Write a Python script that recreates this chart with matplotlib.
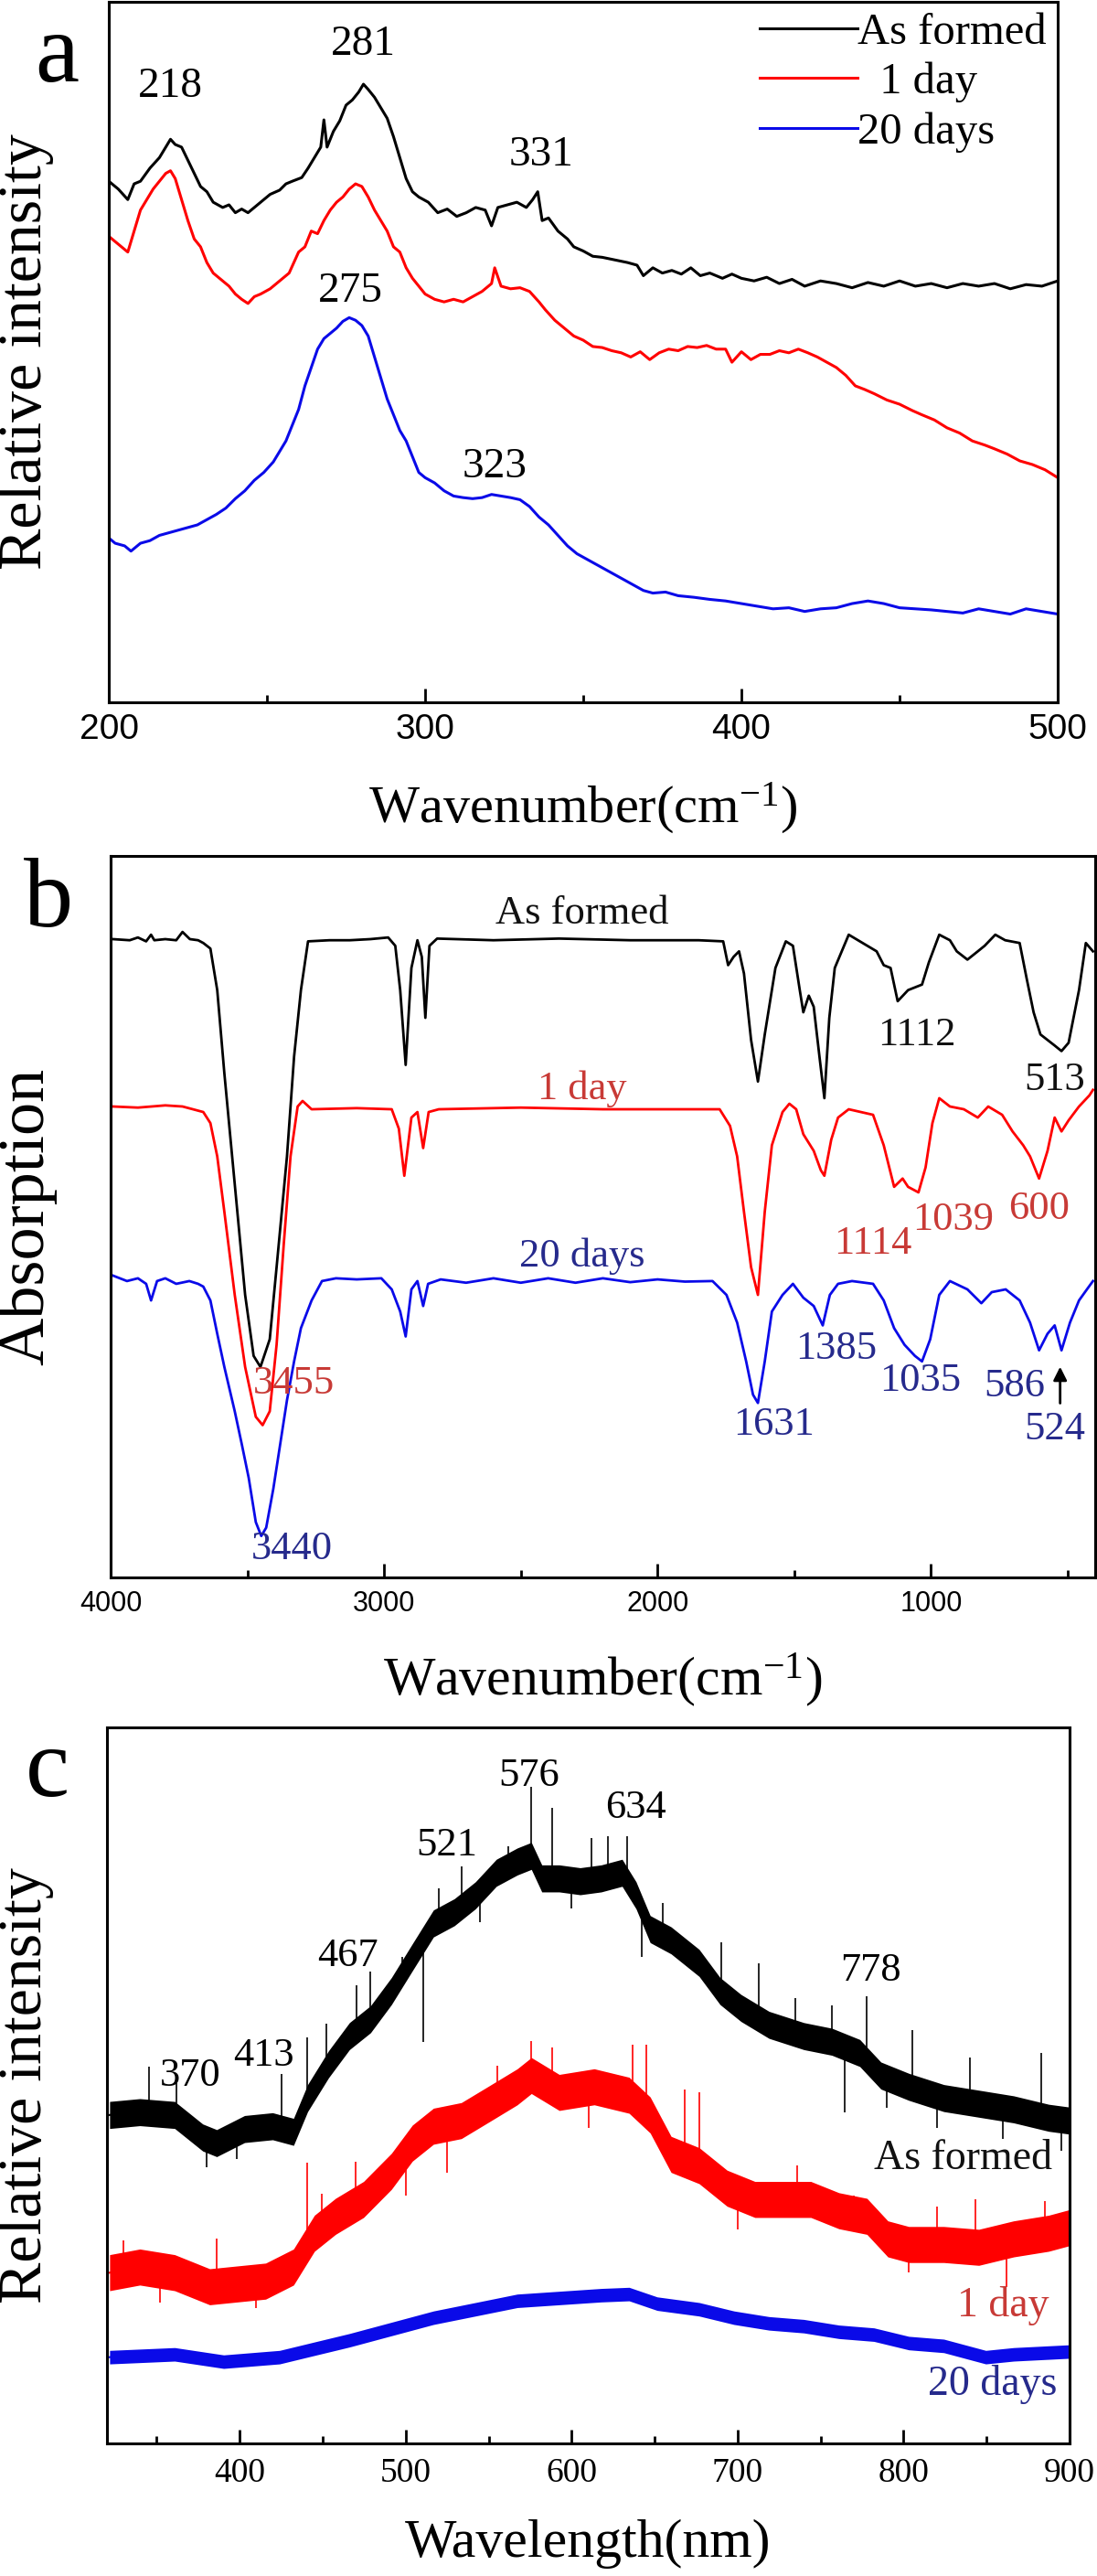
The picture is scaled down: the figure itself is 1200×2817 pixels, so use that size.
# Raman (a), FTIR (b) and PL (c) spectra of the samples: as formed, 1 day, 20 days
import numpy as np
import matplotlib
matplotlib.use('Agg')
import matplotlib.pyplot as plt

plt.rcParams['font.family'] = ['Liberation Serif', 'DejaVu Serif']
plt.rcParams['mathtext.fontset'] = 'custom'
plt.rcParams['mathtext.rm'] = 'Liberation Serif'
plt.rcParams['mathtext.it'] = 'Liberation Serif:italic'

# ---------------- data, panel a (Raman) ----------------
a_black_x = [200, 203, 206, 208, 210, 213, 216, 218, 219.5, 221, 223, 225, 227, 229, 231, 233, 236, 238, 240, 242,
             244, 246, 248, 251, 254, 256, 258, 261, 263, 265, 267, 268, 269, 271, 273, 275, 277, 279, 280.5, 282,
             284, 286, 288, 290, 292, 294, 296, 298, 301, 304, 307, 310, 313, 316, 319, 321, 323, 326, 329, 332,
             334, 335.6, 337, 339, 342, 345, 347, 350, 353, 356, 360, 364, 367, 369, 372, 375, 378, 381, 384, 387,
             390, 394, 397, 400, 404, 408, 412, 416, 420, 425, 430, 435, 440, 445, 450, 455, 460, 465, 470, 475,
             480, 485, 490, 495, 500]
a_black_y = [993, 978, 958, 988, 993, 1018, 1038, 1058, 1073, 1063, 1058, 1033, 1008, 983, 973, 953, 943, 948, 933, 940,
             933, 943, 953, 968, 976, 988, 993, 1000, 1018, 1038, 1058, 1110, 1058, 1088, 1108, 1138, 1148, 1163, 1178, 1168,
             1153, 1133, 1113, 1078, 1038, 998, 973, 963, 953, 933, 940, 926, 933, 943, 938, 908, 943, 948, 953, 943,
             958, 973, 918, 923, 898, 883, 868, 860, 850, 848, 843, 838, 833, 813, 828, 818, 823, 816, 828, 813,
             818, 808, 816, 808, 803, 810, 798, 806, 793, 803, 798, 790, 800, 793, 803, 793, 798, 790, 798, 793,
             798, 788, 796, 793, 803]

a_red_x = [200, 202, 204, 206, 208, 210, 212, 214, 216, 218, 219.5, 221, 223, 225, 227, 229, 231, 233, 236, 238,
           240, 242, 244, 246, 248, 251, 254, 257, 260, 262, 264, 266, 268, 270, 272, 274, 276, 278, 280, 282,
           284, 286, 288, 290, 292, 294, 296, 298, 300, 303, 306, 309, 312, 315, 318, 321, 322, 324, 327, 330,
           333, 336, 338, 341, 344, 347, 350, 353, 356, 359, 362, 365, 368, 371, 374, 377, 380, 383, 386, 389,
           392, 395, 397, 400, 403, 406, 409, 412, 415, 418, 421, 424, 427, 430, 433, 436, 439, 442, 446, 450,
           454, 457, 461, 465, 469, 473, 477, 480, 484, 488, 492, 496, 500]
a_red_y = [888, 878, 868, 858, 898, 938, 958, 978, 993, 1008, 1013, 998, 958, 918, 883, 868, 838, 818, 803, 793,
           778, 768, 760, 773, 778, 788, 803, 818, 858, 868, 898, 893, 918, 938, 953, 963, 978, 988, 983, 963,
           938, 918, 898, 868, 858, 828, 808, 793, 778, 768, 763, 768, 763, 773, 783, 798, 828, 793, 788, 790,
           783, 763, 748, 728, 713, 698, 690, 678, 676, 670, 666, 658, 668, 653, 666, 673, 670, 678, 676, 680,
           673, 673, 648, 668, 653, 663, 663, 670, 666, 673, 666, 658, 648, 638, 623, 603, 596, 588, 576, 568,
           556, 548, 538, 523, 513, 498, 490, 483, 473, 460, 453, 443, 428]

a_blue_x = [200, 202, 205, 207, 210, 213, 216, 219, 222, 225, 228, 231, 234, 237, 240, 243, 246, 249, 252, 254,
            256, 258, 260, 262, 264, 266, 268, 270, 272, 274, 276, 278, 280, 282, 284, 286, 288, 290, 292, 294,
            296, 298, 300, 303, 306, 309, 312, 315, 318, 321, 324, 327, 330, 333, 336, 339, 342, 345, 348, 351,
            354, 357, 360, 363, 366, 369, 372, 376, 380, 385, 390, 395, 400, 405, 410, 415, 420, 425, 430, 435,
            440, 445, 450, 455, 460, 465, 470, 475, 480, 485, 490, 495, 500]
a_blue_y = [313, 303, 298, 288, 303, 308, 318, 323, 328, 333, 338, 348, 358, 370, 388, 403, 423, 438, 458, 478,
            498, 528, 558, 603, 638, 673, 693, 703, 713, 726, 733, 728, 718, 698, 658, 618, 578, 548, 518, 498,
            468, 438, 428, 418, 403, 393, 390, 388, 390, 396, 393, 390, 386, 373, 353, 338, 318, 298, 283, 273,
            263, 253, 243, 233, 223, 213, 208, 210, 203, 200, 196, 193, 188, 183, 178, 180, 173, 178, 180, 188,
            193, 188, 180, 178, 176, 173, 170, 178, 173, 168, 178, 173, 168]

a_peaks = ['218', '281', '331', '275', '323']
a_peak_x = [219.6, 280.3, 336.7, 276.5, 322]
a_peak_y = [1173, 1253, 1043, 783, 448]

# ---------------- data, panel b (FTIR) ----------------
b_black_x = [3992, 3930, 3900, 3870, 3852, 3840, 3800, 3760, 3737, 3710, 3680, 3661, 3635, 3610, 3584, 3546, 3508, 3477,
             3452, 3418, 3393, 3355, 3329, 3304, 3278, 3200, 3125, 3050, 2985, 2959, 2941, 2921, 2900, 2878, 2862,
             2849, 2834, 2806, 2600, 2360, 2100, 1850, 1760, 1742, 1722, 1702, 1684, 1658, 1633, 1608, 1569, 1531,
             1505, 1480, 1467, 1447, 1429, 1408, 1390, 1372, 1352, 1301, 1250, 1199, 1173, 1148, 1122, 1084, 1033,
             1008, 970, 931, 906, 867, 829, 804, 765, 729, 676, 650, 625, 600, 574, 548, 523, 497, 459, 434, 408]
b_black_y = [1152, 1150, 1155, 1148, 1160, 1150, 1152, 1150, 1165, 1152, 1150, 1145, 1135, 1060, 910, 710, 510, 400,
             380, 430, 560, 760, 940, 1060, 1148, 1150, 1150, 1152, 1155, 1140, 1060, 925, 1100, 1150, 1120,
             1010, 1140, 1153, 1150, 1153, 1150, 1150, 1148, 1105, 1120, 1130, 1090, 970, 895, 980, 1100, 1148,
             1140, 1060, 1020, 1050, 1030, 940, 865, 1010, 1100, 1160, 1145, 1130, 1105, 1100, 1040, 1060, 1070,
             1110, 1160, 1150, 1130, 1115, 1130, 1140, 1160, 1150, 1145, 1080, 1020, 980, 970, 960, 950, 965, 1060, 1145, 1130]

b_red_x = [3992, 3900, 3800, 3737, 3661, 3635, 3610, 3584, 3546, 3508, 3469, 3444, 3418, 3393, 3367, 3342, 3316, 3298,
           3265, 3100, 2972, 2946, 2926, 2900, 2878, 2857, 2837, 2800, 2500, 2200, 1773, 1735, 1709, 1684, 1658,
           1633, 1608, 1582, 1543, 1518, 1493, 1467, 1429, 1403, 1390, 1365, 1340, 1301, 1212, 1173, 1135, 1104,
           1084, 1046, 1020, 995, 970, 931, 880, 829, 791, 740, 702, 663, 638, 605, 574, 548, 523, 497, 459, 421, 408]
b_red_y = [850, 848, 852, 850, 840, 820, 760, 660, 510, 380, 290, 275, 300, 420, 600, 760, 850, 860,
           845, 847, 845, 810, 725, 830, 840, 775, 840, 845, 848, 845, 845, 815, 760, 660, 560,
           510, 660, 780, 840, 855, 845, 800, 770, 735, 725, 790, 830, 845, 835, 780, 705, 720,
           705, 695, 740, 820, 865, 850, 845, 830, 850, 835, 805, 780, 760, 720, 770, 830, 805, 825, 850, 870, 880]

b_blue_x = [3992, 3940, 3900, 3870, 3852, 3830, 3800, 3760, 3712, 3680, 3661, 3635, 3610, 3584, 3546, 3520, 3495, 3469,
            3449, 3431, 3405, 3380, 3355, 3329, 3304, 3265, 3227, 3176, 3100, 3010, 2972, 2941, 2921, 2900, 2878,
            2857, 2839, 2793, 2700, 2600, 2500, 2400, 2300, 2200, 2100, 2000, 1900, 1799, 1748, 1709, 1676, 1651,
            1633, 1608, 1582, 1543, 1505, 1467, 1429, 1396, 1370, 1340, 1289, 1212, 1173, 1135, 1097, 1059, 1033,
            1003, 970, 931, 867, 816, 778, 727, 676, 638, 605, 574, 548, 523, 492, 459, 430, 408]
b_blue_y = [545, 535, 540, 530, 500, 535, 540, 530, 535, 530, 525, 500, 440, 380, 300, 240, 180, 100,
            75, 90, 160, 240, 320, 390, 450, 500, 535, 540, 538, 540, 520, 480, 435, 520, 535,
            490, 530, 538, 532, 540, 532, 540, 532, 540, 533, 538, 534, 535, 510, 460, 390, 330,
            315, 390, 480, 510, 530, 505, 490, 455, 510, 530, 535, 530, 500, 450, 420, 400, 390,
            430, 510, 535, 520, 495, 515, 520, 500, 460, 410, 440, 455, 410, 460, 500, 520, 535]

b_black_labels = ['As formed', '1112', '513']
b_black_lx = [2275, 1051, 548]
b_black_ly = [1198, 978, 898]
b_red_labels = ['1 day', '3455', '1114', '1039', '600']
b_red_lx = [2275, 3329, 1212, 918, 605]
b_red_ly = [882, 350, 603, 645, 665]
b_blue_labels = ['20 days', '3440', '1631', '1385', '1035', '586', '524']
b_blue_lx = [2275, 3337, 1574, 1347, 1038, 694, 548]
b_blue_ly = [580, 52, 275, 413, 355, 345, 267]

# ---------------- data, panel c (PL) ----------------
c_black_x = [321.6, 339.8, 360.8, 377.7, 386.1, 402.9, 419.8, 432.4, 440.9, 453.5, 466.1, 478.8, 491.4, 504, 516.7,
             529.3, 542, 554.6, 567.2, 575.7, 582, 592.5, 605.1, 617.8, 630.4, 638.8, 647.3, 659.9, 676.8, 689.4,
             702, 718.9, 739.9, 756.8, 773.6, 786.3, 803.1, 824.2, 845.3, 866.3, 887.4, 900]
c_black_y = [583, 588, 583, 543, 533, 558, 563, 553, 613, 673, 723, 753, 803, 863, 923,
             943, 973, 1013, 1033, 1043, 1003, 1003, 998, 1003, 1013, 973, 913, 893, 853, 803,
             773, 743, 723, 713, 693, 653, 633, 613, 603, 593, 578, 573]

c_red_x = [321.6, 339.8, 360.8, 381.9, 398.7, 415.6, 432.4, 445, 457.7, 474.6, 491.4, 504, 516.7, 533.5, 550.4,
           567.2, 575.7, 592.5, 613.6, 634.6, 647.3, 659.9, 676.8, 693.6, 710.4, 727.3, 744.1, 761, 777.9, 790.5,
           803.1, 824.2, 845.3, 866.3, 887.4, 900]
c_red_y = [303, 313, 303, 278, 283, 288, 313, 373, 403, 433, 483, 533, 563, 573, 603,
           633, 653, 623, 633, 618, 583, 513, 493, 453, 433, 433, 433, 413, 403, 363,
           353, 353, 348, 363, 373, 383]

c_blue_x = [321.6, 360.8, 390.3, 424, 445, 466.1, 491.4, 516.7, 542, 567.2, 592.5, 617.8, 634.6, 651.5, 676.8,
            697.8, 718.9, 739.9, 761, 782.1, 803.1, 824.2, 849.5, 866.3, 900]
c_blue_y = [153, 158, 145, 153, 168, 183, 203, 223, 238, 253, 258, 263, 265, 248, 238,
            223, 213, 208, 198, 193, 178, 173, 153, 158, 163]

# isolated noise spikes (tip heights)
c_black_spike_x = [345.2, 362, 380, 398, 425, 440.9, 452, 470.3, 478.8, 497.7, 510.8, 520, 533.5, 545, 550.4,
                   562, 575.7, 588.3, 600, 612, 622, 633.4, 642.2, 655, 690, 712.6, 735, 756.8, 764.3, 777.9,
                   790, 805.2, 820, 840, 860, 883.2, 895]
c_black_spike_y = [668, 640, 490, 505, 655, 721, 745, 813, 838, 863, 713, 985, 1025, 925, 983,
                   1060, 1165, 1128, 950, 1075, 1078, 1078, 863, 960, 890, 853, 790, 778, 588, 793,
                   595, 733, 560, 685, 540, 693, 520]
c_red_spike_x = [330, 352, 386.1, 410, 440.9, 449.3, 470, 500, 525, 555, 575.7, 588.3, 610, 636.7, 645.2,
                 668.3, 676.8, 700, 735.7, 770, 803.1, 820, 843.1, 862.1, 885]
c_red_spike_y = [360, 250, 363, 240, 498, 443, 500, 440, 480, 670, 715, 703, 560, 708, 708,
                 628, 623, 380, 493, 440, 303, 420, 433, 278, 430]

c_peaks = ['576', '634', '521', '467', '413', '370', '778']
c_peak_x = [574.4, 638.8, 525, 464.9, 414.3, 370, 780]
c_peak_y = [1185, 1128, 1061, 865, 688, 653, 840]

RED_TXT = '#c83a36'
NAVY_TXT = '#262a8c'

fig = plt.figure(figsize=(12, 28.17), dpi=100)


def frame(ax, major, minor, tick_font, tick_size, tick_pad):
    for sp in ax.spines.values():
        sp.set_linewidth(2.2)
    ax.set_xticks(major)
    ax.set_xticklabels([str(v) for v in major], fontfamily=tick_font, fontsize=tick_size)
    ax.set_xticks(minor, minor=True)
    ax.tick_params(axis='x', which='major', direction='in', length=11, width=2, pad=tick_pad)
    ax.tick_params(axis='x', which='minor', direction='in', length=6, width=2)
    ax.tick_params(axis='y', which='both', left=False, labelleft=False)


# ---------------- panel a ----------------
ax_a = fig.add_axes([0.0992, 0.7274, 0.865, 0.2719])
ax_a.plot(a_black_x, a_black_y, color='black', lw=2.2, label='As formed')
ax_a.plot(a_red_x, a_red_y, color='red', lw=2.2, label='  1 day')
ax_a.plot(a_blue_x, a_blue_y, color='#0a0ae8', lw=2.2, label='20 days')
ax_a.set_xlim(200, 500)
ax_a.set_ylim(0, 1335)
frame(ax_a, [200, 300, 400, 500], [250, 350, 450], 'Liberation Sans', 28, 9)
for s, x, y in zip(a_peaks, a_peak_x, a_peak_y):
    ax_a.text(x, y, s, fontsize=34, ha='center', va='center')
ax_a.legend(loc='upper right', frameon=False, fontsize=35, handlelength=2.2, handletextpad=0.0,
            labelspacing=0.2, borderaxespad=0.1, borderpad=0.15)
ax_a.set_ylabel('Relative intensity', fontsize=49)
ax_a.yaxis.set_label_coords(-0.087, 0.5)
ax_a.yaxis.label.set_va('center')
ax_a.set_xlabel('Wavenumber(cm$^{-1}$)', fontsize=42)
ax_a.xaxis.set_label_coords(0.5, -0.152)
ax_a.xaxis.label.set_va('center')

# ---------------- panel b ----------------
ax_b = fig.add_axes([0.1008, 0.3876, 0.8975, 0.2801])
ax_b.plot(b_black_x, b_black_y, color='black', lw=2.0)
ax_b.plot(b_red_x, b_red_y, color='red', lw=2.0)
ax_b.plot(b_blue_x, b_blue_y, color='#0a0ae8', lw=2.0)
ax_b.set_xlim(4000, 400)
ax_b.set_ylim(0, 1302)
frame(ax_b, [4000, 3000, 2000, 1000], [3500, 2500, 1500, 500], 'Liberation Sans', 22, 10)
for s, x, y in zip(b_black_labels, b_black_lx, b_black_ly):
    ax_b.text(x, y, s, fontsize=32, ha='center', va='center', color='#111111')
for s, x, y in zip(b_red_labels, b_red_lx, b_red_ly):
    ax_b.text(x, y, s, fontsize=32, ha='center', va='center', color=RED_TXT)
for s, x, y in zip(b_blue_labels, b_blue_lx, b_blue_ly):
    ax_b.text(x, y, s, fontsize=32, ha='center', va='center', color=NAVY_TXT)
ax_b.annotate('', xy=(528, 385), xytext=(528, 310),
              arrowprops=dict(arrowstyle='-|>', color='black', lw=2, mutation_scale=22))
ax_b.set_ylabel('Absorption', fontsize=52)
ax_b.yaxis.set_label_coords(-0.085, 0.5)
ax_b.yaxis.label.set_va('center')
ax_b.set_xlabel('Wavenumber(cm$^{-1}$)', fontsize=43)
ax_b.xaxis.set_label_coords(0.5, -0.142)
ax_b.xaxis.label.set_va('center')

# ---------------- panel c ----------------
ax_c = fig.add_axes([0.0975, 0.0515, 0.8775, 0.2779])
# noisy bands: centre band plus the isolated spikes
for xs, ys, col, half in [(c_black_x, c_black_y, 'black', 24),
                          (c_red_x, c_red_y, 'red', 32),
                          (c_blue_x, c_blue_y, '#0a0ae8', 12)]:
    ys = np.array(ys, dtype=float)
    ax_c.fill_between(xs, ys - half, ys + half, color=col, lw=0)
    ax_c.plot(xs, ys, color=col, lw=1.5)
base = np.interp(c_black_spike_x, c_black_x, c_black_y)
ax_c.vlines(c_black_spike_x, base, c_black_spike_y, color='black', lw=1.2)
base = np.interp(c_red_spike_x, c_red_x, c_red_y)
ax_c.vlines(c_red_spike_x, base, c_red_spike_y, color='red', lw=1.2)
ax_c.set_xlim(320, 900)
ax_c.set_ylim(0, 1271)
frame(ax_c, [400, 500, 600, 700, 800, 900], [350, 450, 550, 650, 750, 850], 'Liberation Serif', 27, 11)
for s, x, y in zip(c_peaks, c_peak_x, c_peak_y):
    ax_c.text(x, y, s, fontsize=32, ha='center', va='center')
ax_c.text(889.5, 505, 'As formed', fontsize=33, ha='right', va='center', color='#111111')
ax_c.text(887.4, 245, '1 day', fontsize=33, ha='right', va='center', color=RED_TXT)
ax_c.text(892.4, 105, '20 days', fontsize=33, ha='right', va='center', color=NAVY_TXT)
ax_c.set_ylabel('Relative intensity', fontsize=49)
ax_c.yaxis.set_label_coords(-0.084, 0.5)
ax_c.yaxis.label.set_va('center')
ax_c.set_xlabel('Wavelength(nm)', fontsize=43)
ax_c.xaxis.set_label_coords(0.5, -0.14)
ax_c.xaxis.label.set_va('center')

# panel letters
fig.text(0.0517, 0.9776, 'a', fontsize=78, ha='center', va='center')
fig.text(0.0442, 0.6496, 'b', fontsize=78, ha='center', va='center')
fig.text(0.0433, 0.3120, 'c', fontsize=78, ha='center', va='center')

fig.savefig('out.png', dpi=100)
